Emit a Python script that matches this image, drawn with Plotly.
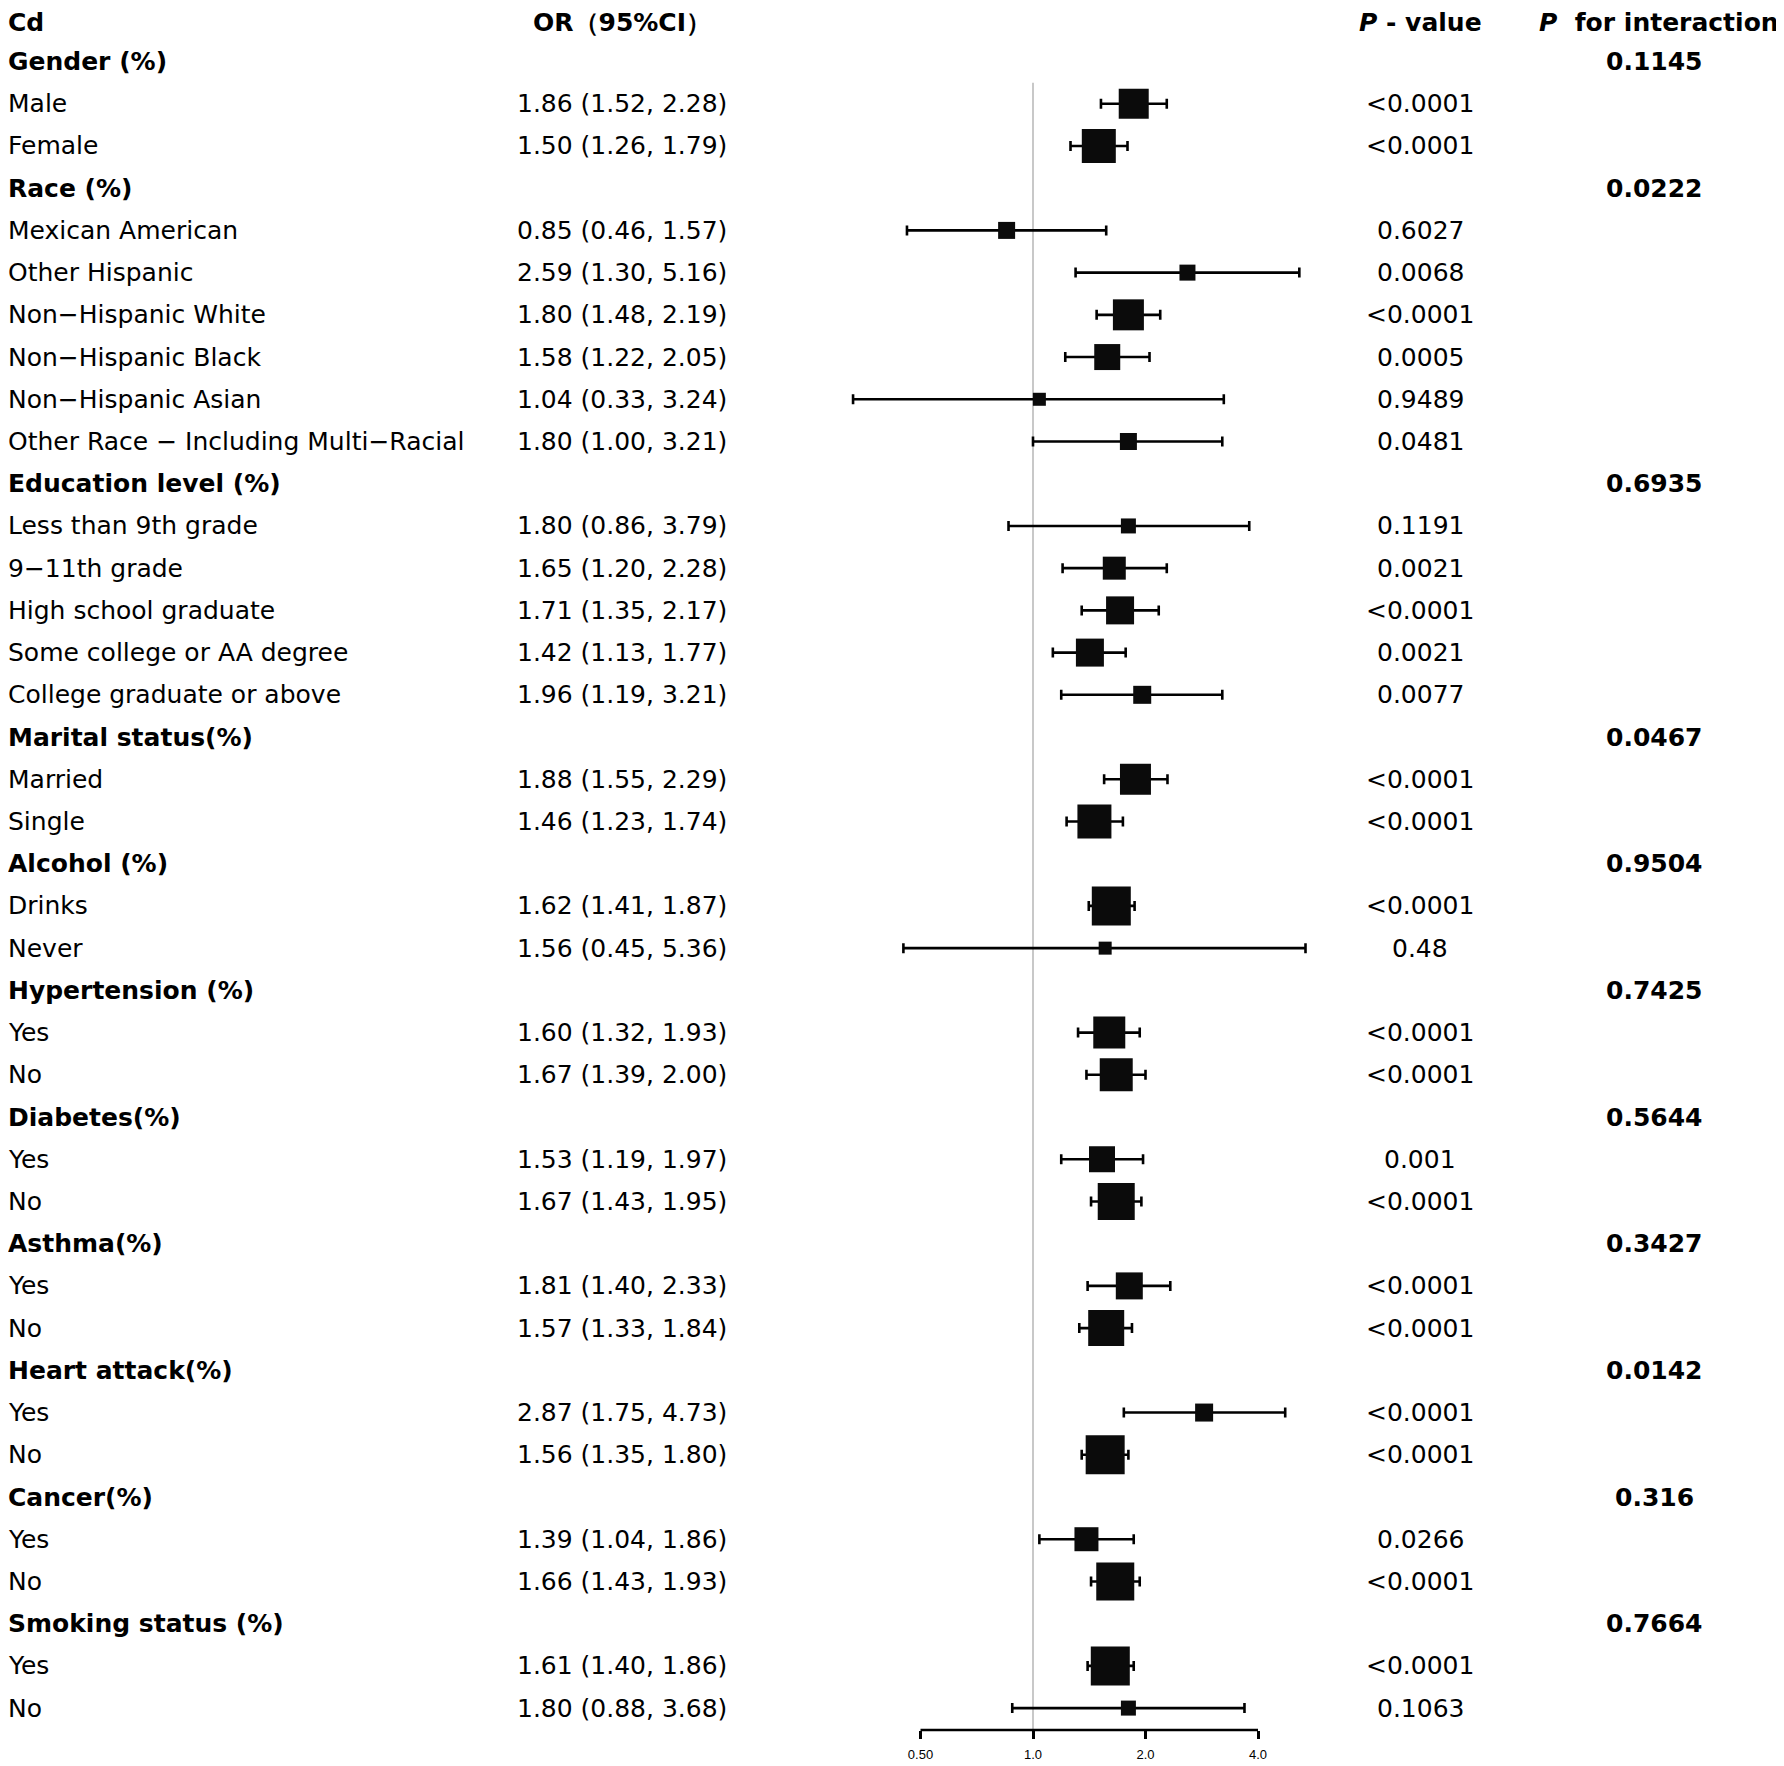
import plotly.graph_objects as go

# subgroup blocks: header name, P for interaction, number of rows under it
group_names = ["Gender (%)", "Race (%)", "Education level (%)", "Marital status(%)",
               "Alcohol (%)", "Hypertension (%)", "Diabetes(%)", "Asthma(%)",
               "Heart attack(%)", "Cancer(%)", "Smoking status (%)"]
group_p_int = ["0.1145", "0.0222", "0.6935", "0.0467", "0.9504", "0.7425",
               "0.5644", "0.3427", "0.0142", "0.316", "0.7664"]
group_counts = [2, 6, 5, 2, 2, 2, 2, 2, 2, 2, 2]

sub_labels = ["Male", "Female",
              "Mexican American", "Other Hispanic", "Non\u2212Hispanic White",
              "Non\u2212Hispanic Black", "Non\u2212Hispanic Asian",
              "Other Race \u2212 Including Multi\u2212Racial",
              "Less than 9th grade", "9\u221211th grade", "High school graduate",
              "Some college or AA degree", "College graduate or above",
              "Married", "Single",
              "Drinks", "Never",
              "Yes", "No",
              "Yes", "No",
              "Yes", "No",
              "Yes", "No",
              "Yes", "No",
              "Yes", "No"]
or_val = [1.86, 1.50, 0.85, 2.59, 1.80, 1.58, 1.04, 1.80, 1.80, 1.65, 1.71, 1.42, 1.96,
          1.88, 1.46, 1.62, 1.56, 1.60, 1.67, 1.53, 1.67, 1.81, 1.57, 2.87, 1.56,
          1.39, 1.66, 1.61, 1.80]
ci_low = [1.52, 1.26, 0.46, 1.30, 1.48, 1.22, 0.33, 1.00, 0.86, 1.20, 1.35, 1.13, 1.19,
          1.55, 1.23, 1.41, 0.45, 1.32, 1.39, 1.19, 1.43, 1.40, 1.33, 1.75, 1.35,
          1.04, 1.43, 1.40, 0.88]
ci_high = [2.28, 1.79, 1.57, 5.16, 2.19, 2.05, 3.24, 3.21, 3.79, 2.28, 2.17, 1.77, 3.21,
           2.29, 1.74, 1.87, 5.36, 1.93, 2.00, 1.97, 1.95, 2.33, 1.84, 4.73, 1.80,
           1.86, 1.93, 1.86, 3.68]
p_value = ["<0.0001", "<0.0001", "0.6027", "0.0068", "<0.0001", "0.0005", "0.9489",
           "0.0481", "0.1191", "0.0021", "<0.0001", "0.0021", "0.0077", "<0.0001",
           "<0.0001", "<0.0001", "0.48", "<0.0001", "<0.0001", "0.001", "<0.0001",
           "<0.0001", "<0.0001", "<0.0001", "<0.0001", "0.0266", "<0.0001",
           "<0.0001", "0.1063"]
# box side (px), proportional to weight
box_size = [30, 34, 17, 16, 31, 26, 13, 17, 15, 23, 28, 28, 18, 31, 34, 39, 13,
            32, 33, 26, 37, 27, 36, 18, 39, 24, 38, 39, 15]

x_ticks = [0.5, 1, 2, 4]
x_tick_text = ["0.50", "1.0", "2.0", "4.0"]

# page body has an 8px margin, so the figure is a bit smaller than the window
W, H = 1776, 1758
OFF = 8
FONT = "DejaVu Sans, Verdana, sans-serif"

# row index of every header / subgroup (row 0 is the column header)
group_rows, sub_rows = [], []
r = 1
for n in group_counts:
    group_rows.append(r)
    sub_rows.extend(range(r + 1, r + 1 + n))
    r += n + 1

# layout in window pixels: row 0 at y=19.3, 42.22 px per row, axis at y=1730
# OR=1 at x=1033, 112.5 px per doubling
ROW0, ROWH, AXIS_Y = 19.3, 42.22, 1730
X1, PX_DEC = 1033, 112.5 / 0.30103
y_bottom = (AXIS_Y - ROW0) / ROWH
y_top = (OFF - ROW0) / ROWH
x_range = [(OFF - X1) / PX_DEC, (OFF + W - X1) / PX_DEC]

fig = go.Figure()
fig.add_trace(go.Scatter(
    x=or_val, y=sub_rows, mode="markers",
    marker=dict(symbol="square", size=box_size, color="#0b0b0b", opacity=1,
                line_width=0),
    error_x=dict(type="data", symmetric=False,
                 array=[h - o for h, o in zip(ci_high, or_val)],
                 arrayminus=[o - l for o, l in zip(or_val, ci_low)],
                 color="black", thickness=2.6, width=5),
    showlegend=False, hoverinfo="skip"))

# reference line at OR = 1
fig.add_shape(type="line", xref="x", yref="y", x0=1, x1=1, y0=1.5, y1=y_bottom,
              line=dict(color="#c8c8c8", width=2), layer="below")
# axis line only between the outer ticks
fig.add_shape(type="line", xref="x", yref="paper", x0=x_ticks[0], x1=x_ticks[-1],
              y0=0, y1=0, line=dict(color="black", width=2.6))


def px(x):
    return (x - OFF) / W


x_label = -2 / W
x_or = px(622)
x_p = px(1420)
x_pint = px(1654)

ann = []
def txt(x, y, s, anchor="center"):
    ann.append(dict(x=x, y=y, xref="paper", yref="y", text=s, showarrow=False,
                    xanchor=anchor, yanchor="middle"))

# column header, pinned to the top edge so it is not clipped
header_texts = ["<b>Cd</b>", "<b>OR\uff0895%CI\uff09</b>", "<b><i>P</i> - value</b>",
                "<b><i>P</i>\u00a0\u00a0for interaction</b>"]
header_x = [x_label, x_or, x_p, px(1659)]
header_anchor = ["left", "center", "center", "center"]
for s, hx, a in zip(header_texts, header_x, header_anchor):
    ann.append(dict(x=hx, y=1, xref="paper", yref="paper", text=s, showarrow=False,
                    xanchor=a, yanchor="top", yshift=2))

for name, pint, row in zip(group_names, group_p_int, group_rows):
    txt(x_label, row, f"<b>{name}</b>", "left")
    txt(x_pint, row, f"<b>{pint}</b>")

for lab, o, lo, hi, p, row in zip(sub_labels, or_val, ci_low, ci_high, p_value, sub_rows):
    txt(x_label, row, lab, "left")
    txt(x_or, row, f"{o:.2f} ({lo:.2f}, {hi:.2f})")
    txt(x_p, row, p.replace("<", "&lt;"))

fig.update_layout(
    width=W, height=H,
    margin=dict(l=0, r=0, t=0, b=H - (AXIS_Y - OFF)),
    paper_bgcolor="white", plot_bgcolor="white",
    font=dict(family=FONT, size=25, color="black"),
    annotations=ann,
    xaxis=dict(type="log", range=x_range, tickvals=x_ticks,
               ticktext=x_tick_text, ticks="outside", ticklen=8, tickwidth=2.6,
               tickcolor="black", showgrid=False, zeroline=False, showline=False,
               ticklabelstandoff=4,
               tickfont=dict(family="Liberation Sans, Arial, sans-serif", size=13,
                             color="black")),
    yaxis=dict(range=[y_bottom, y_top], visible=False),
)

fig.write_html("out.html")
